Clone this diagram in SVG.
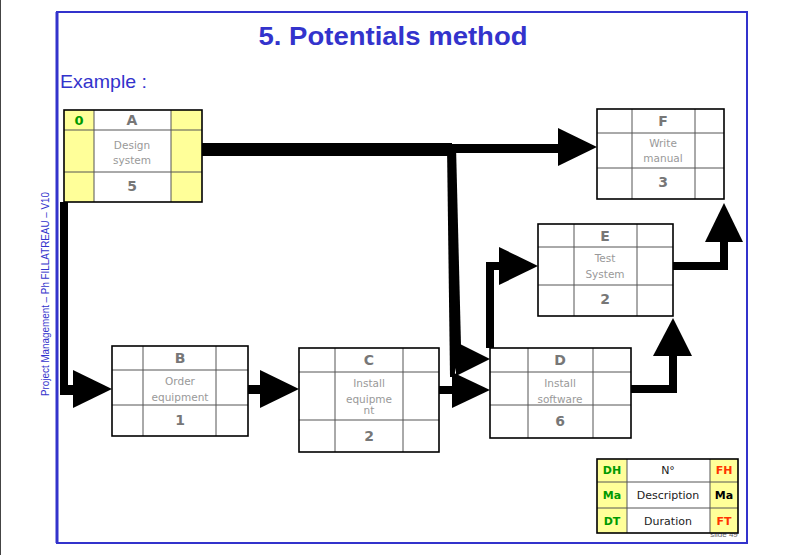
<svg xmlns="http://www.w3.org/2000/svg" width="785" height="555" viewBox="0 0 785 555">
<style>
.cell{stroke:#555;stroke-width:1;}
.y{fill:#FFFF99;}
.w{fill:#FFFFFF;}
.out{fill:none;stroke:#000;stroke-width:1.6;}
.in{stroke:#555;stroke-width:1;fill:none;}
.t{font-family:"DejaVu Sans","Liberation Sans",sans-serif;text-anchor:middle;dominant-baseline:central;}
.id{font-size:14px;font-weight:bold;fill:#777;}
.ds{font-size:10.5px;fill:#999;}
.lg{font-size:11px;fill:#222;}
.gr{fill:#009900;font-weight:bold;}
.rd{fill:#FF3300;font-weight:bold;}
.blk{fill:#000;font-weight:bold;}
.ln{fill:#000;stroke:none;}
</style>
<rect x="0" y="0" width="785" height="555" fill="#fff"/>
<line x1="0.5" y1="0" x2="0.5" y2="555" stroke="#444" stroke-width="1"/>
<rect x="57" y="12" width="690" height="531" fill="none" stroke="#3333CC" stroke-width="2"/>
<line x1="57" y1="12" x2="57" y2="543" stroke="#3333CC" stroke-width="3"/>
<text x="393" y="45" font-family="Liberation Sans, Arial, sans-serif" font-weight="bold" font-size="26" fill="#3333CC" text-anchor="middle" textLength="269" lengthAdjust="spacingAndGlyphs">5. Potentials method</text>
<text x="60" y="88" font-family="Liberation Sans, Arial, sans-serif" font-size="19" fill="#3333CC" textLength="87" lengthAdjust="spacingAndGlyphs">Example :</text>
<text transform="translate(49,294) rotate(-90)" font-family="Liberation Sans, Arial, sans-serif" font-size="11" fill="#3333CC" text-anchor="middle" textLength="204" lengthAdjust="spacingAndGlyphs">Project Management – Ph FILLATREAU – V10</text>
<text x="724" y="537" font-family="Liberation Sans, Arial, sans-serif" font-size="8" fill="#666" text-anchor="middle">slide 49</text>

<g id="connectors">
<rect class="ln" x="202" y="143" width="250" height="13"/>
<rect class="ln" x="450" y="144" width="110" height="9"/>
<polygon class="ln" points="558,128 597,147 558,166"/>
<polygon class="ln" points="447,146 456,146 461,345 454,377 450,377"/>
<polygon class="ln" points="456,342 490,359 456,376"/>
<rect class="ln" x="439" y="386" width="16" height="8"/>
<polygon class="ln" points="452,372 490,390 452,408"/>
<rect class="ln" x="60" y="202" width="8" height="193"/>
<rect class="ln" x="60" y="385" width="15" height="10"/>
<polygon class="ln" points="73,370 112,389 73,408"/>
<rect class="ln" x="248" y="385" width="14" height="9"/>
<polygon class="ln" points="260,370 299,389 260,408"/>
<rect class="ln" x="486" y="262" width="8" height="86"/>
<rect class="ln" x="486" y="262" width="15" height="8"/>
<polygon class="ln" points="499,247 538,266 499,285"/>
<rect class="ln" x="631" y="385" width="46" height="8"/>
<rect class="ln" x="669" y="354" width="8" height="39"/>
<polygon class="ln" points="653,356 673,318 692,356"/>
<rect class="ln" x="673" y="262" width="55" height="8"/>
<rect class="ln" x="720" y="240" width="8" height="30"/>
<polygon class="ln" points="705,242 724,203 743,242"/>
</g>

<g id="node-A">
<rect class="y" x="64" y="110" width="138" height="92"/>
<rect class="w" x="94" y="110" width="77" height="92"/>
<path class="in" d="M94,110V202M171,110V202M64,130H202M64,172H202"/>
<rect class="out" x="64" y="110" width="138" height="92"/>
<text class="t gr" x="79" y="120" font-size="13">0</text>
<text class="t id" x="132" y="120">A</text>
<text class="t ds" x="132" y="145">Design</text>
<text class="t ds" x="132" y="160">system</text>
<text class="t id" x="132" y="186">5</text>
</g>

<g id="node-F">
<rect class="w" x="597" y="109" width="127" height="90"/>
<path class="in" d="M632,109V199M695,109V199M597,133H724M597,168H724"/>
<rect class="out" x="597" y="109" width="127" height="90"/>
<text class="t id" x="663" y="121">F</text>
<text class="t ds" x="663" y="143">Write</text>
<text class="t ds" x="663" y="158">manual</text>
<text class="t id" x="663" y="182">3</text>
</g>

<g id="node-E">
<rect class="w" x="538" y="224" width="135" height="92"/>
<path class="in" d="M574,224V316M637,224V316M538,247H673M538,285H673"/>
<rect class="out" x="538" y="224" width="135" height="92"/>
<text class="t id" x="605" y="236">E</text>
<text class="t ds" x="605" y="258">Test</text>
<text class="t ds" x="605" y="274">System</text>
<text class="t id" x="605" y="299">2</text>
</g>

<g id="node-B">
<rect class="w" x="112" y="346" width="136" height="90"/>
<path class="in" d="M143,346V436M216,346V436M112,370H248M112,405H248"/>
<rect class="out" x="112" y="346" width="136" height="90"/>
<text class="t id" x="180" y="358">B</text>
<text class="t ds" x="180" y="381">Order</text>
<text class="t ds" x="180" y="397">equipment</text>
<text class="t id" x="180" y="420">1</text>
</g>

<g id="node-C">
<rect class="w" x="299" y="348" width="140" height="104"/>
<path class="in" d="M335,348V452M403,348V452M299,372H439M299,420H439"/>
<rect class="out" x="299" y="348" width="140" height="104"/>
<text class="t id" x="369" y="360">C</text>
<text class="t ds" x="369" y="383">Install</text>
<text class="t ds" x="369" y="399">equipme</text>
<text class="t ds" x="369" y="410">nt</text>
<text class="t id" x="369" y="436">2</text>
</g>

<g id="node-D">
<rect class="w" x="490" y="348" width="141" height="90"/>
<path class="in" d="M528,348V438M593,348V438M490,372H631M490,405H631"/>
<rect class="out" x="490" y="348" width="141" height="90"/>
<text class="t id" x="560" y="360">D</text>
<text class="t ds" x="560" y="383">Install</text>
<text class="t ds" x="560" y="399">software</text>
<text class="t id" x="560" y="421">6</text>
</g>

<g id="legend">
<rect class="y" x="597" y="459" width="141" height="74"/>
<rect class="w" x="627" y="459" width="83" height="74"/>
<path class="in" d="M627,459V533M710,459V533M597,482H738M597,508H738"/>
<rect class="out" x="597" y="459" width="141" height="74"/>
<text class="t lg gr" x="612" y="470">DH</text>
<text class="t lg" x="668" y="470">N°</text>
<text class="t lg rd" x="724" y="470">FH</text>
<text class="t lg gr" x="612" y="495">Ma</text>
<text class="t lg" x="668" y="495">Description</text>
<text class="t lg blk" x="724" y="495">Ma</text>
<text class="t lg gr" x="612" y="521">DT</text>
<text class="t lg" x="668" y="521">Duration</text>
<text class="t lg rd" x="724" y="521">FT</text>
</g>
</svg>
